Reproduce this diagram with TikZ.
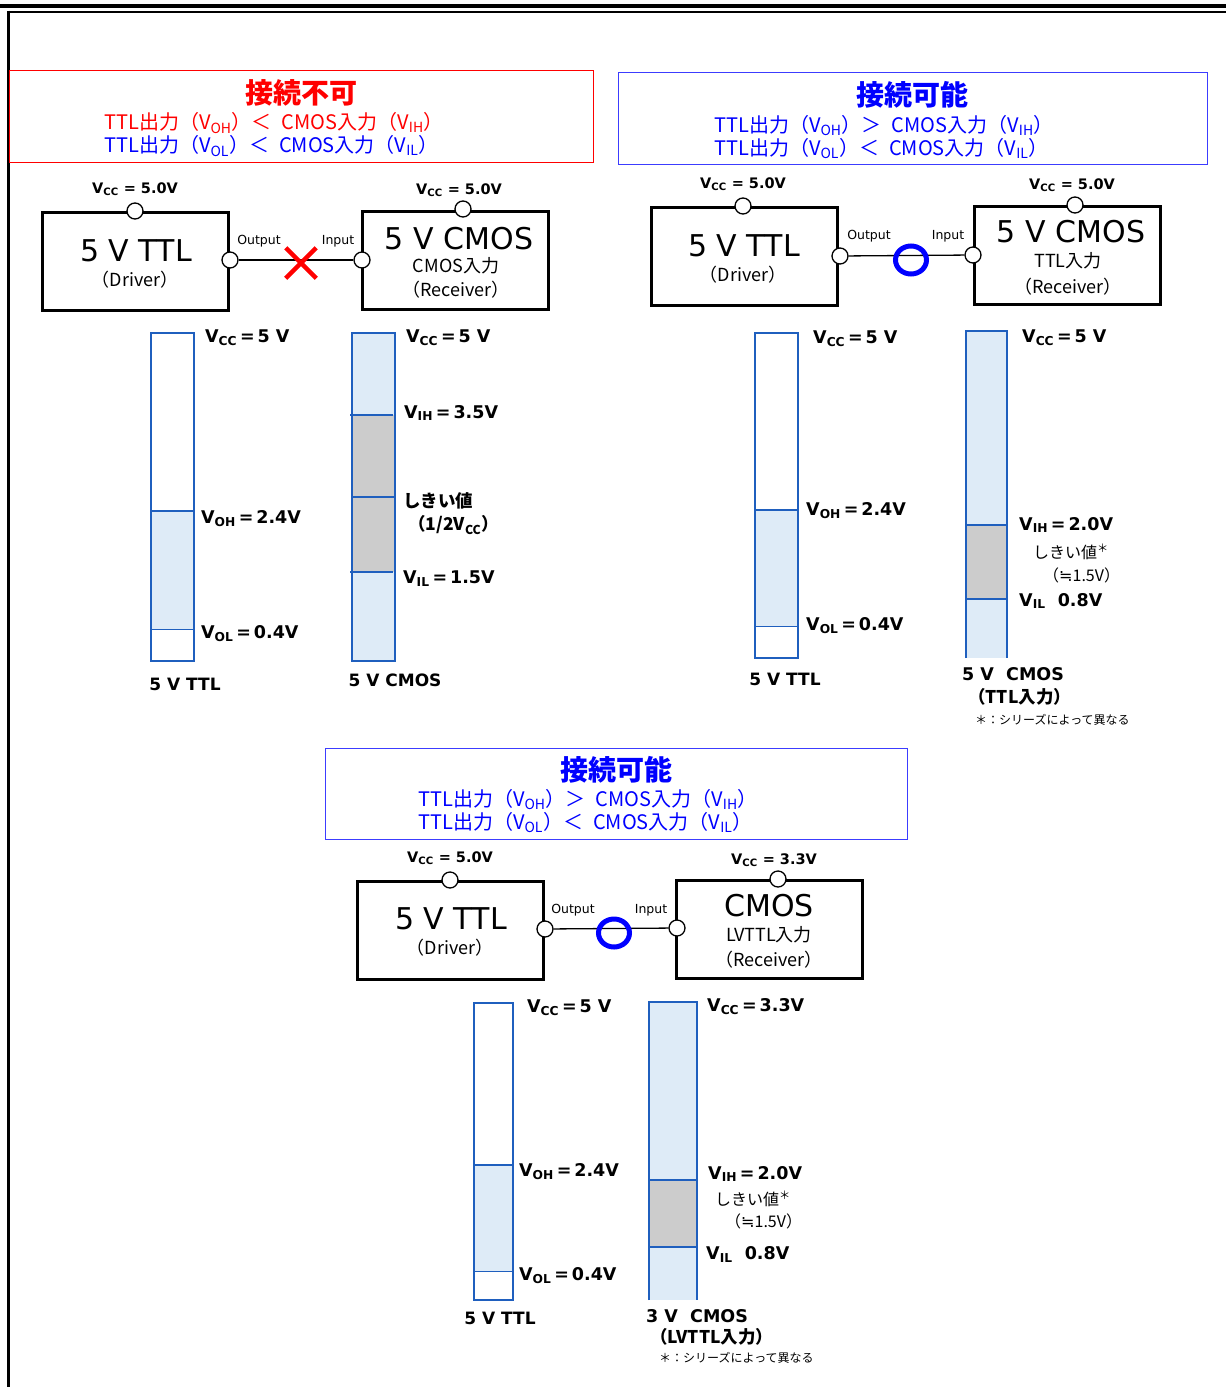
\documentclass[tikz,border=0pt]{standalone}
\usepackage{fontspec}
\setmainfont{DejaVu Sans}
\newfontfamily\jp{Noto Sans CJK JP}
\usetikzlibrary{positioning,shapes.geometric,shapes.misc}
\definecolor{ngred}{RGB}{255,0,0}
\definecolor{okblue}{RGB}{0,0,255}
\definecolor{hdrblue}{RGB}{60,60,255}
\definecolor{barblue}{RGB}{31,95,190}
\definecolor{barfill}{RGB}{222,235,247}
\definecolor{bargray}{RGB}{204,204,204}
\newcommand{\Vsub}[1]{V\textsubscript{#1}}
\newcommand{\fsz}[1]{\fontsize{#1}{#1}\selectfont}
\newcommand{\eqs}{\,=\,}
\newcommand{\approxeq}{{\rmfamily ≒}}
\newcommand{\cmp}[1]{#1\hspace{0.5em}}

\begin{document}
\begin{tikzpicture}[x=1pt,y=-1pt,
  chip/.style={draw,line width=3pt,minimum width=186pt,minimum height=98pt,inner sep=0pt},
  pin/.style={draw,circle,fill=white,line width=1.3pt,minimum size=16pt,inner sep=0pt},
  vcclab/.style={font=\fsz{14.5}\bfseries,inner sep=0pt},
  iolab/.style={font=\fsz{12.5},inner sep=0pt},
  chipbig/.style={font=\fsz{30},inner sep=0pt},
  chipsmall/.style={font=\jp\fsz{18},inner sep=0pt},
  hdrbox/.style={line width=1pt,inner sep=0pt},
  hdrtitle/.style={font=\jp\fsz{28}\bfseries,inner sep=0pt},
  hdrline/.style={font=\jp\fontsize{20}{23}\selectfont,align=left,inner sep=0pt},
  barlab/.style={anchor=west,font=\fsz{17.5}\bfseries,inner sep=0pt},
  barname/.style={font=\fsz{17}\bfseries,inner sep=0pt},
  jpbold/.style={anchor=west,font=\jp\fsz{17.5}\bfseries,inner sep=0pt},
  jplab/.style={anchor=west,font=\jp\fsz{16},inner sep=0pt},
  note/.style={anchor=west,font=\jp\fsz{12},inner sep=0pt},
  okmark/.style={draw=okblue,ellipse,line width=5pt,minimum width=31pt,minimum height=28pt,inner sep=0pt},
  ngmark/.style={draw=ngred,cross out,line width=4.5pt,minimum size=26pt,inner sep=0pt}]
  \useasboundingbox (0,0) rectangle (1226,1387);
  % page frame
  \draw[line width=3.5pt] (0,6) -- (1226,6);
  \draw[line width=2pt] (8.5,11.5) -- (1226,11.5);
  \draw[line width=3pt] (8.5,10.5) -- (8.5,1387);

  % ===== 5V TTL -> 5V CMOS (NG) =====
  \node[hdrbox,draw=ngred,minimum width=584pt,minimum height=92pt] (nghdr) at (301,116) {};
  \node[hdrtitle,ngred] (ngtitle) at (301,93) {接続不可};
  \node[hdrline] (ngcond) at (274,134.5) {\textcolor{ngred}{TTL出力（\Vsub{OH}）\cmp{＜}CMOS入力（\Vsub{IH}）}\\
    \textcolor{okblue}{TTL出力（\Vsub{OL}）\cmp{＜}CMOS入力（\Vsub{IL}）}};
  \node[chip] (drv1) at (135.5,261.5) {};
  \node[chip] (rcv1) at (455.5,260) {};
  \node[chipbig] (drv1a) at (136,251) {5 V TTL};
  \node[chipsmall] (drv1b) at (135,280) {（Driver）};
  \node[chipbig] (rcv1a) at (459,239) {5 V CMOS};
  \node[chipsmall] (rcv1b) at (456,266) {CMOS入力};
  \node[chipsmall] (rcv1c) at (456,290) {（Receiver）};
  \node[pin] (drv1vcc) at (135,211) {};
  \node[pin] (rcv1vcc) at (463,209) {};
  \node[pin] (drv1out) at (230,260) {};
  \node[pin] (rcv1in) at (362,260) {};
  \draw[line width=1.3pt] (drv1out) -- (rcv1in);
  \node[vcclab] (drv1vl) at (135,189) {\Vsub{CC} = 5.0V};
  \node[vcclab] (rcv1vl) at (459,190) {\Vsub{CC} = 5.0V};
  \node[iolab] (drv1ol) at (259,241) {Output};
  \node[iolab] (rcv1il) at (338,241) {Input};
  \node[ngmark] (ng1) at (301,263) {};
  % level bars
  \fill[barfill] (151,511) rectangle (194,629);
  \draw[barblue,line width=2pt] (151,333) rectangle (194,661);
  \draw[barblue,line width=2pt] (151,511) -- (194,511);
  \draw[barblue,line width=1pt] (151,629) -- (194,629);
  \fill[barfill] (352,333) rectangle (395,661);
  \fill[bargray] (352,415) rectangle (395,572);
  \draw[barblue,line width=2pt] (352,333) rectangle (395,661);
  \draw[barblue,line width=2pt] (350,415) -- (393,415);
  \draw[barblue,line width=2pt] (352,497) -- (395,497);
  \draw[barblue,line width=1.5pt] (350,572) -- (393,572);
  \node[barlab] (ttl1cc) at (205,338) {\Vsub{CC}\eqs 5 V};
  \node[barlab] (ttl1oh) at (201,519) {\Vsub{OH}\eqs 2.4V};
  \node[barlab] (ttl1ol) at (201,634) {\Vsub{OL}\eqs 0.4V};
  \node[barname] (ttl1nm) at (185,684) {5 V TTL};
  \node[barlab] (cmos1cc) at (406,338) {\Vsub{CC}\eqs 5 V};
  \node[barlab] (cmos1ih) at (404,413) {\Vsub{IH}\eqs 3.5V};
  \node[jpbold] (cmos1th) at (403,501) {しきい値};
  \node[jpbold] (cmos1tv) at (408,525) {（1/2\Vsub{CC}）};
  \node[barlab] (cmos1il) at (403,579) {\Vsub{IL}\eqs 1.5V};
  \node[barname] (cmos1nm) at (395,680) {5 V CMOS};

  % ===== 5V TTL -> 5V CMOS, TTL input (OK) =====
  \node[hdrbox,draw=hdrblue,minimum width=589pt,minimum height=92pt] (okhdr2) at (912.5,118) {};
  \node[hdrtitle,okblue] (oktitle2) at (912,95) {接続可能};
  \node[hdrline,okblue] (okcond2) at (884,137) {TTL出力（\Vsub{OH}）\cmp{＞}CMOS入力（\Vsub{IH}）\\
    TTL出力（\Vsub{OL}）\cmp{＜}CMOS入力（\Vsub{IL}）};
  \node[chip] (drv2) at (744,256.5) {};
  \node[chip] (rcv2) at (1067.5,255.5) {};
  \node[chipbig] (drv2a) at (744,246) {5 V TTL};
  \node[chipsmall] (drv2b) at (743,275) {（Driver）};
  \node[chipbig] (rcv2a) at (1071,232) {5 V CMOS};
  \node[chipsmall] (rcv2b) at (1068,261) {TTL入力};
  \node[chipsmall] (rcv2c) at (1068,287) {（Receiver）};
  \node[pin] (drv2vcc) at (743,206) {};
  \node[pin] (rcv2vcc) at (1075,205) {};
  \node[pin] (drv2out) at (840,256) {};
  \node[pin] (rcv2in) at (973,255) {};
  \draw[line width=1.3pt] (drv2out) -- (rcv2in);
  \node[vcclab] (drv2vl) at (743,184) {\Vsub{CC} = 5.0V};
  \node[vcclab] (rcv2vl) at (1072,185) {\Vsub{CC} = 5.0V};
  \node[iolab] (drv2ol) at (869,236) {Output};
  \node[iolab] (rcv2il) at (948,236) {Input};
  \node[okmark] (ok2) at (911,260) {};
  % level bars
  \fill[barfill] (755,510) rectangle (798,626);
  \draw[barblue,line width=2pt] (755,333) rectangle (798,658);
  \draw[barblue,line width=2pt] (755,510) -- (798,510);
  \draw[barblue,line width=1pt] (755,626) -- (798,626);
  \fill[barfill] (966,331) rectangle (1007,658);
  \fill[bargray] (966,525) rectangle (1007,599);
  \draw[barblue,line width=2pt] (966,658) -- (966,331) -- (1007,331) -- (1007,658);
  \draw[barblue,line width=1.2pt] (966,525) -- (1007,525);
  \draw[barblue,line width=2pt] (966,599) -- (1007,599);
  \node[barlab] (ttl2cc) at (813,339) {\Vsub{CC}\eqs 5 V};
  \node[barlab] (ttl2oh) at (806,511) {\Vsub{OH}\eqs 2.4V};
  \node[barlab] (ttl2ol) at (806,626) {\Vsub{OL}\eqs 0.4V};
  \node[barname] (ttl2nm) at (785,679) {5 V TTL};
  \node[barlab] (cmos2cc) at (1022,338) {\Vsub{CC}\eqs 5 V};
  \node[barlab] (cmos2ih) at (1019,525) {\Vsub{IH}\eqs 2.0V};
  \node[jplab] (cmos2th) at (1033,552) {しきい値\textsuperscript{＊}};
  \node[jplab] (cmos2tv) at (1043,575) {（\approxeq 1.5V）};
  \node[barlab] (cmos2il) at (1019,601) {\Vsub{IL}\ \ 0.8V};
  \node[barlab] (cmos2nm) at (962,674) {5 V\ \ CMOS};
  \node[jpbold] (cmos2in) at (968,697) {（TTL入力）};
  \node[note] (cmos2nt) at (975,720) {＊：シリーズによって異なる};

  % ===== 5V TTL -> 3.3V CMOS, LVTTL input (OK) =====
  \node[hdrbox,draw=hdrblue,minimum width=582pt,minimum height=91pt] (okhdr3) at (616,793.5) {};
  \node[hdrtitle,okblue] (oktitle3) at (616,770) {接続可能};
  \node[hdrline,okblue] (okcond3) at (588,811) {TTL出力（\Vsub{OH}）\cmp{＞}CMOS入力（\Vsub{IH}）\\
    TTL出力（\Vsub{OL}）\cmp{＜}CMOS入力（\Vsub{IL}）};
  \node[chip] (drv3) at (450,930) {};
  \node[chip] (rcv3) at (769.5,929.5) {};
  \node[chipbig] (drv3a) at (451,919) {5 V TTL};
  \node[chipsmall] (drv3b) at (450,948) {（Driver）};
  \node[chipbig] (rcv3a) at (769,906) {CMOS};
  \node[chipsmall] (rcv3b) at (769,935) {LVTTL入力};
  \node[chipsmall] (rcv3c) at (769,960) {（Receiver）};
  \node[pin] (drv3vcc) at (450,880) {};
  \node[pin] (rcv3vcc) at (778,879) {};
  \node[pin] (drv3out) at (545,929) {};
  \node[pin] (rcv3in) at (677,928) {};
  \draw[line width=1.3pt] (drv3out) -- (rcv3in);
  \node[vcclab] (drv3vl) at (450,858) {\Vsub{CC} = 5.0V};
  \node[vcclab] (rcv3vl) at (774,860) {\Vsub{CC} = 3.3V};
  \node[iolab] (drv3ol) at (573,910) {Output};
  \node[iolab] (rcv3il) at (651,910) {Input};
  \node[okmark] (ok3) at (614,933) {};
  % level bars
  \fill[barfill] (474,1165) rectangle (513,1271);
  \draw[barblue,line width=2pt] (474,1003) rectangle (513,1300);
  \draw[barblue,line width=2pt] (474,1165) -- (513,1165);
  \draw[barblue,line width=1pt] (474,1271) -- (513,1271);
  \fill[barfill] (649,1002) rectangle (697,1300);
  \fill[bargray] (649,1180) rectangle (697,1247);
  \draw[barblue,line width=2pt] (649,1300) -- (649,1002) -- (697,1002) -- (697,1300);
  \draw[barblue,line width=1.2pt] (649,1180) -- (697,1180);
  \draw[barblue,line width=2pt] (649,1247) -- (697,1247);
  \node[barlab] (ttl3cc) at (527,1008) {\Vsub{CC}\eqs 5 V};
  \node[barlab] (ttl3oh) at (519,1172) {\Vsub{OH}\eqs 2.4V};
  \node[barlab] (ttl3ol) at (519,1276) {\Vsub{OL}\eqs 0.4V};
  \node[barname] (ttl3nm) at (500,1318) {5 V TTL};
  \node[barlab] (cmos3cc) at (707,1007) {\Vsub{CC}\eqs 3.3V};
  \node[barlab] (cmos3ih) at (708,1174) {\Vsub{IH}\eqs 2.0V};
  \node[jplab] (cmos3th) at (715,1199) {しきい値\textsuperscript{＊}};
  \node[jplab] (cmos3tv) at (725,1221) {（\approxeq 1.5V）};
  \node[barlab] (cmos3il) at (706,1254) {\Vsub{IL}\ \ 0.8V};
  \node[barlab] (cmos3nm) at (646,1316) {3 V\ \ CMOS};
  \node[jpbold] (cmos3in) at (650,1337) {（LVTTL入力）};
  \node[note] (cmos3nt) at (659,1358) {＊：シリーズによって異なる};
\end{tikzpicture}
\end{document}
